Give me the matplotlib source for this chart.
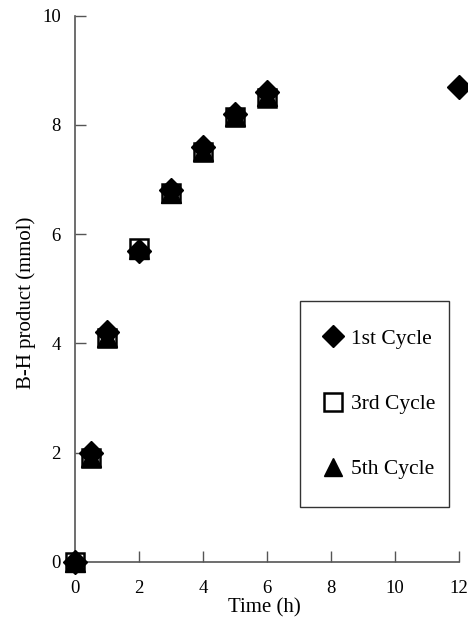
#!/usr/bin/env python3
import matplotlib
matplotlib.use("Agg")
import matplotlib.pyplot as plt
from matplotlib.lines import Line2D


TIME_1 = [0, 0.5, 1, 2, 3, 4, 5, 6, 12]
CYCLE_1 = [0.0, 2.0, 4.2, 5.7, 6.8, 7.6, 8.2, 8.6, 8.7]

TIME_3 = [0, 0.5, 1, 2, 3, 4, 5, 6]
CYCLE_3 = [0.0, 1.9, 4.1, 5.75, 6.75, 7.5, 8.15, 8.5]

TIME_5 = [0, 0.5, 1, 2, 3, 4, 5, 6]
CYCLE_5 = [0.0, 1.92, 4.12, 5.72, 6.75, 7.52, 8.17, 8.52]

LABELS = ["1st Cycle", "3rd Cycle", "5th Cycle"]
X_TICKS = [0, 2, 4, 6, 8, 10, 12]
Y_TICKS = [0, 2, 4, 6, 8, 10]


def main():
    plt.rcParams['font.family'] = ['Liberation Serif', 'DejaVu Serif']
    fig = plt.figure(figsize=(4.68, 6.25), dpi=100)
    ax = fig.add_axes([0.160, 0.101, 0.821, 0.874])

    ax.plot(TIME_3, CYCLE_3, linestyle='none', marker='s', markersize=13,
            markerfacecolor='white', markeredgecolor='black', markeredgewidth=1.8,
            clip_on=False, zorder=3)
    ax.plot(TIME_5, CYCLE_5, linestyle='none', marker='^', markersize=15,
            color='black', clip_on=False, zorder=4)
    ax.plot(TIME_1, CYCLE_1, linestyle='none', marker='D', markersize=12.5,
            color='black', clip_on=False, zorder=5)

    ax.set_xlim(0, 12)
    ax.set_ylim(0, 10)
    ax.set_xticks(X_TICKS)
    ax.set_yticks(Y_TICKS)
    ax.spines['top'].set_visible(False)
    ax.spines['right'].set_visible(False)
    for side in ['left', 'bottom']:
        ax.spines[side].set_color('#555555')
        ax.spines[side].set_linewidth(1.2)
    ax.tick_params(direction='in', length=8, width=1.0, color='#555555',
                   labelsize=13.5)
    ax.tick_params(axis='x', pad=13)
    ax.tick_params(axis='y', pad=10)

    ax.set_xlabel("Time (h)", fontsize=15, va='top')
    ax.set_ylabel("B-H product (mmol)", fontsize=15)
    ax.xaxis.set_label_coords(0.492, -0.066)
    ax.yaxis.set_label_coords(-0.101, 0.474)

    handles = [
        Line2D([], [], linestyle='none', marker='D', markersize=11.5, color='black'),
        Line2D([], [], linestyle='none', marker='s', markersize=13,
               markerfacecolor='white', markeredgecolor='black', markeredgewidth=1.8),
        Line2D([], [], linestyle='none', marker='^', markersize=13, color='black'),
    ]
    leg = ax.legend(handles, LABELS, loc='upper left',
                    bbox_to_anchor=(0.586, 0.108, 0.388, 0.370), mode='expand',
                    fontsize=15.5, numpoints=1, labelspacing=2.1, borderpad=1.3,
                    handletextpad=0.6, handlelength=0.47, fancybox=False,
                    framealpha=1, edgecolor='#333333', borderaxespad=0)
    leg.get_frame().set_linewidth(1.0)

    fig.savefig("out.png", dpi=100)


if __name__ == '__main__':
    main()
